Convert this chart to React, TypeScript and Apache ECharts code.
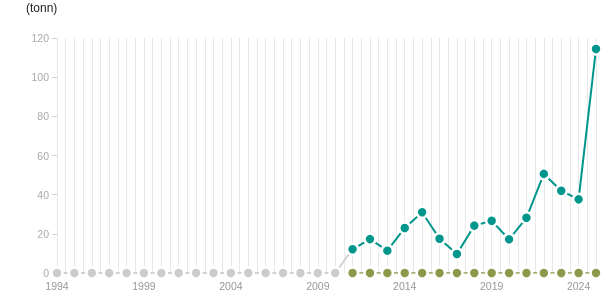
import React, { useEffect, useRef } from "react";
import * as echarts from "echarts";

const unitLabel = "(tonn)";
const yTicks = [0, 20, 40, 60, 80, 100, 120];
const labelYears = [1994, 1999, 2004, 2009, 2014, 2019, 2024];

const grayYears = [1994, 1995, 1996, 1997, 1998, 1999, 2000, 2001, 2002, 2003, 2004, 2005, 2006, 2007, 2008, 2009, 2010, 2011];
const grayValues = [0, 0, 0, 0, 0, 0, 0, 0, 0, 0, 0, 0, 0, 0, 0, 0, 0, 12.1];

const tealYears = [2011, 2012, 2013, 2014, 2015, 2016, 2017, 2018, 2019, 2020, 2021, 2022, 2023, 2024, 2025];
const tealValues = [12.1, 17.3, 11.4, 23.0, 31.0, 17.5, 9.7, 24.2, 26.7, 17.2, 28.2, 50.6, 42.0, 37.6, 114.4];
const oliveValues = [0, 0, 0, 0, 0, 0, 0, 0, 0, 0, 0, 0, 0, 0, 0];

const FONT = "'Liberation Sans', Arial, sans-serif";

export default function App() {
  const ref = useRef<HTMLDivElement>(null);
  useEffect(() => {
    if (!ref.current) return;
    const chart = echarts.init(ref.current, null, { renderer: "svg" });
    const sym = (color: string) => ({
      symbol: "circle",
      symbolSize: 11,
      itemStyle: { color, borderColor: "#ffffff", borderWidth: 2.5 },
    });
    chart.setOption({
      animation: false,
      textStyle: { fontFamily: FONT },
      grid: { left: 57, right: 19, top: 38, bottom: 32, containLabel: false },
      graphic: [
        {
          type: "text",
          left: 26,
          top: 2,
          style: { text: unitLabel, fontSize: 12, fill: "#222222", fontFamily: FONT },
        },
      ],
      xAxis: {
        type: "value",
        min: grayYears[0],
        max: tealYears[tealYears.length - 1],
        interval: 0.5,
        axisLine: { show: false },
        axisTick: { show: false },
        splitLine: { show: true, lineStyle: { color: "#e8e8e8", width: 1 } },
        axisLabel: {
          color: "#999999",
          fontSize: 10.5,
          margin: 7,
          fontFamily: FONT,
          formatter: (v: number) => (labelYears.includes(v) ? String(v) : ""),
        },
      },
      yAxis: {
        type: "value",
        min: yTicks[0],
        max: yTicks[yTicks.length - 1],
        interval: 20,
        axisLine: { show: false },
        axisTick: { show: true, length: 5, lineStyle: { color: "#d0d0d0" } },
        splitLine: { show: false },
        axisLabel: { color: "#aaaaaa", fontSize: 10.5, margin: 8, fontFamily: FONT },
      },
      series: [
        {
          type: "line",
          data: grayYears.map((y, i) => [y, grayValues[i]]),
          lineStyle: { color: "#d2d2d2", width: 2 },
          ...sym("#cccccc"),
          z: 2,
        },
        {
          type: "line",
          data: tealYears.map((y, i) => [y, oliveValues[i]]),
          lineStyle: { color: "#8a9a4a", width: 1.5 },
          ...sym("#8a9a4a"),
          z: 3,
        },
        {
          type: "line",
          data: tealYears.map((y, i) => [y, tealValues[i]]),
          lineStyle: { color: "#00968c", width: 2 },
          ...sym("#00968c"),
          z: 4,
        },
      ],
    });
    return () => chart.dispose();
  }, []);
  return (
    <div
      ref={ref}
      style={{ position: "fixed", left: 0, top: 0, width: 615, height: 305 }}
    />
  );
}
